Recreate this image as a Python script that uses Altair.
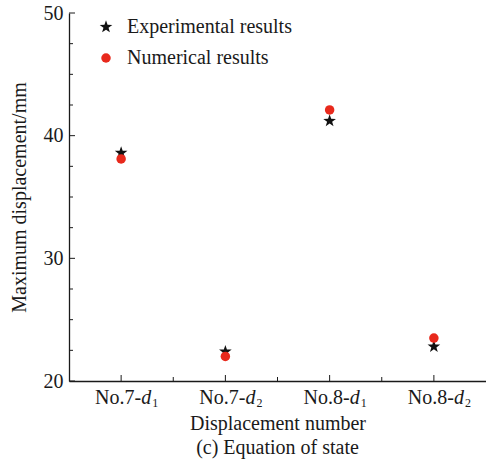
import altair as alt
import pandas as pd

# Displacement gauges and the two sets of results (mm)
cats = ["No.7-d1", "No.7-d2", "No.8-d1", "No.8-d2"]
prefixes = ["No.7-", "No.7-", "No.8-", "No.8-"]
subs = ["1", "2", "1", "2"]
experimental = [38.6, 22.4, 41.2, 22.8]
numerical = [38.1, 22.0, 42.1, 23.5]

series_names = ["Experimental results", "Numerical results"]
y_major = [20, 30, 40, 50]
y_minor = [22.5, 25, 27.5, 32.5, 35, 37.5, 42.5, 45, 47.5]

W, H = 417, 368
FONT = "Liberation Serif"
FS = 20
INK = "#1a1a1a"

# five-pointed star as a custom symbol path
STAR = ("M0,-1.4 L0.329,-0.453 L1.331,-0.433 L0.533,0.173 L0.823,1.133 "
        "L0,0.56 L-0.823,1.133 L-0.533,0.173 L-1.331,-0.433 L-0.329,-0.453 Z")

rows = []
for c, e, n in zip(cats, experimental, numerical):
    rows.append({"cat": c, "series": series_names[0], "value": e})
    rows.append({"cat": c, "series": series_names[1], "value": n})
points_df = pd.DataFrame(rows)
labels_df = pd.DataFrame({"cat": cats, "prefix": prefixes, "sub": subs})
ymaj_df = pd.DataFrame({"value": y_major})
ymin_df = pd.DataFrame({"value": y_minor})
xmaj_df = pd.DataFrame({"cat": cats})
xmin_df = pd.DataFrame({"cat": cats[1:]})

xscale = alt.Scale(type="band", domain=cats, paddingInner=0, paddingOuter=0)
yscale = alt.Scale(domain=[20, 50], nice=False, zero=False)

x_axis = alt.Axis(labels=False, ticks=False, grid=False, domainColor=INK, domainWidth=1.3,
                  title="Displacement number",
                  titleFont=FONT, titleFontSize=FS, titleFontWeight="normal",
                  titleColor=INK, titlePadding=32)
y_axis = alt.Axis(values=y_major, ticks=False, grid=False, domainColor=INK,
                  domainWidth=1.3, labelFont=FONT, labelFontSize=FS,
                  labelColor=INK, labelPadding=6,
                  title="Maximum displacement/mm", titleFont=FONT,
                  titleFontSize=FS, titleFontWeight="normal",
                  titleColor=INK, titlePadding=14)

legend = alt.Legend(title=None, orient="none", legendX=27, legendY=4,
                    labelFont=FONT, labelFontSize=FS, labelColor=INK, labelLimit=400,
                    symbolSize=90, rowPadding=11, labelOffset=11)

points = alt.Chart(points_df).mark_point(filled=True, opacity=1, size=90).encode(
    x=alt.X("cat:N", scale=xscale, axis=x_axis),
    y=alt.Y("value:Q", scale=yscale, axis=y_axis),
    shape=alt.Shape("series:N", scale=alt.Scale(domain=series_names, range=[STAR, "circle"]),
                    legend=legend),
    color=alt.Color("series:N", scale=alt.Scale(domain=series_names, range=["#111111", "#e8291c"]),
                    legend=legend),
)

# inward-pointing axis ticks
ymaj = alt.Chart(ymaj_df).mark_rule(color=INK, strokeWidth=1).encode(
    y=alt.Y("value:Q", scale=yscale), x=alt.value(0), x2=alt.value(6))
ymin = alt.Chart(ymin_df).mark_rule(color=INK, strokeWidth=1).encode(
    y=alt.Y("value:Q", scale=yscale), x=alt.value(0), x2=alt.value(4))
xmaj = alt.Chart(xmaj_df).mark_rule(color=INK, strokeWidth=1).encode(
    x=alt.X("cat:N", scale=xscale, bandPosition=0.5), y=alt.value(H), y2=alt.value(H - 6))
xmin = alt.Chart(xmin_df).mark_rule(color=INK, strokeWidth=1).encode(
    x=alt.X("cat:N", scale=xscale, bandPosition=0), y=alt.value(H), y2=alt.value(H - 4))

# category labels: "No.7-" + italic d + subscript index
lab_prefix = alt.Chart(labels_df).mark_text(font=FONT, fontSize=FS, color=INK, align="right",
                                            baseline="alphabetic", dx=20).encode(
    x=alt.X("cat:N", scale=xscale), y=alt.value(H + 23), text="prefix:N")
lab_d = alt.Chart(labels_df).mark_text(font=FONT, fontSize=FS, color=INK, align="left",
                                       baseline="alphabetic", dx=20, fontStyle="italic").encode(
    x=alt.X("cat:N", scale=xscale), y=alt.value(H + 23), text=alt.value("d"))
lab_sub = alt.Chart(labels_df).mark_text(font=FONT, fontSize=12, color=INK, align="left",
                                         baseline="alphabetic", dx=31).encode(
    x=alt.X("cat:N", scale=xscale), y=alt.value(H + 26), text="sub:N")

chart = alt.layer(points, ymaj, ymin, xmaj, xmin, lab_prefix, lab_d, lab_sub).properties(
    width=W, height=H,
    autosize=alt.AutoSizeParams(type="none"),
    padding={"left": 69, "top": 13, "right": 0, "bottom": 81},
    background="white",
    title=alt.TitleParams("(c) Equation of state", orient="bottom", font=FONT, fontSize=FS,
                          fontWeight="normal", color=INK, offset=5),
).configure_view(stroke=None)

chart.save("out.html", embed_options={"renderer": "svg", "actions": False})
